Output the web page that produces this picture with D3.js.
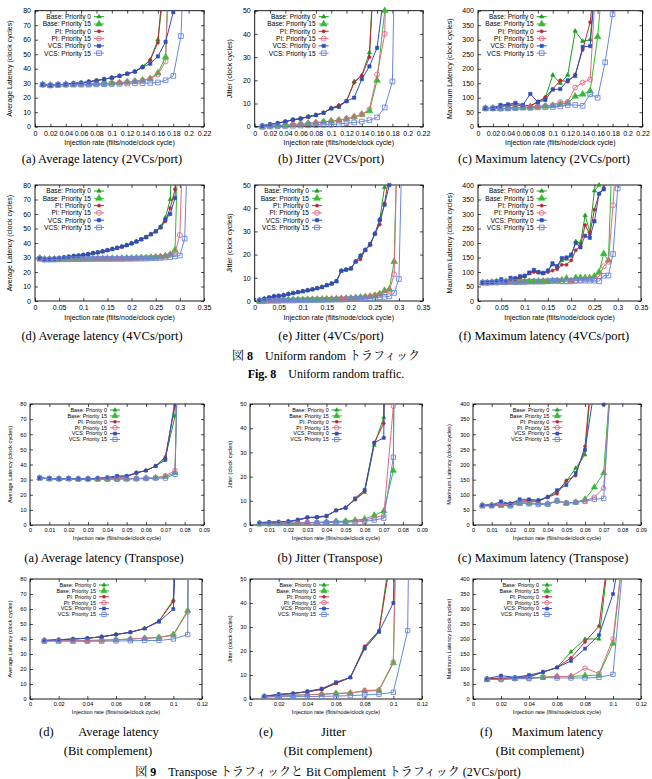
<!DOCTYPE html>
<html><head><meta charset="utf-8">
<script src="https://cdn.jsdelivr.net/npm/d3@7"></script>
<style>body{margin:0;background:#fff}svg{display:block}</style>
</head><body><svg id="c" width="652" height="779"></svg>
<script>
// ---------------- DATA ----------------
const seriesNames = ["Base: Priority 0","Base: Priority 15","PI: Priority 0","PI: Priority 15","VCS: Priority 0","VCS: Priority 15"];

// Fig 8 (a)(b)(c): uniform random, 2VCs/port
const xUni2 = [0.01,0.02,0.03,0.04,0.05,0.06,0.07,0.08,0.09,0.10,0.11,0.12,0.13,0.14,0.15,0.16,0.17,0.18,0.19,0.20];
const avgUni2 = [
  [29,28.5,29,29.3,29.8,30.3,31,31.8,32.8,33.8,35,36.5,38,41.5,46,60,105,null,null,null],
  [29,28.5,28.8,29,29.2,29.3,29.4,29.6,29.8,30,30.3,30.8,31.3,32,33,37,48,200,null,null],
  [29,28.5,29,29.3,29.8,30.3,31,31.8,32.8,33.8,35,36.5,38,41,46,58,120,null,null,null],
  [29,28.5,28.8,29,29.2,29.3,29.4,29.6,29.8,30,30.3,30.8,31.3,32,33,36,45,200,null,null],
  [29,28.5,29,29.3,29.8,30.3,31,31.8,32.8,33.8,35,36.5,38,41,43.5,48.5,58.5,79,200,null],
  [29,28.5,28.8,29,29,29,29,29.2,29.3,29.5,29.6,29.8,30,30,30.2,30.5,32,35,62.5,200]
];
const jitUni2 = [
  [0.3,1,1.5,2.2,3,3.5,4.3,5,6,8,9,11,19.5,22,32,95,null,null,null,null],
  [0,0.3,0.5,0.6,0.9,1.1,1.4,1.7,2.1,2.4,2.8,3.4,4.2,5.3,6.8,20,50,200,null,null],
  [0.3,1,1.5,2.2,3,3.5,4.3,5,6,8,9.2,11,19,22,30,95,null,null,null,null],
  [0,0.3,0.5,0.6,0.9,1.1,1.4,1.7,2.1,2.4,2.8,3.4,4.2,5.3,7.5,22.5,40,200,null,null],
  [0.5,1,1.5,2.2,3,3.5,4.3,5,6,7.8,8.5,11,12.5,20.5,26,34,60,null,null,null],
  [0,0.1,0.2,0.3,0.4,0.5,0.6,0.7,0.8,0.9,1.2,1.5,1.8,2.2,2.8,4,8.3,19.5,200,null]
];
const maxUni2 = [
  [63,63,70,72,75,73,73,85,100,178,150,178,330,295,300,600,null,null,null,null],
  [63,63,63,63,65,65,66,68,70,72,78,82,105,112,123,310,600,null,null,null],
  [63,63,70,75,75,73,72,85,102,130,160,155,180,265,360,600,null,null,null,null],
  [63,63,62,65,66,67,68,70,72,75,85,85,135,152,163,600,null,null,null,null],
  [63,65,75,77,82,75,113,85,92,128,130,160,175,275,278,600,null,null,null,null],
  [63,63,63,63,64,66,65,67,67,68,70,75,75,72,112,100,222,388,600,null]
];

// Fig 8 (d)(e)(f): uniform random, 4VCs/port
const xUni4 = [0.01,0.02,0.03,0.04,0.05,0.06,0.07,0.08,0.09,0.10,0.11,0.12,0.13,0.14,0.15,0.16,0.17,0.18,0.19,0.20,0.21,0.22,0.23,0.24,0.25,0.26,0.27,0.28,0.29,0.30,0.31,0.32];
const avgUni4 = [
  [29.5,28.8,29,29.2,29.5,30,30.5,31,31.3,31.8,32.3,33,33.5,34.2,35,35.8,36.6,37.5,38.5,39.7,41,42.5,44,46,48,51,57.5,70,150,null,null,null],
  [29.5,28.8,28.8,28.8,28.9,29,29,29,29,29,29,29,29.2,29.2,29.2,29.3,29.3,29.4,29.5,29.5,29.6,29.7,29.8,30,30.2,30.5,31,32,35,150,null,null],
  [29.5,28.8,29,29.2,29.5,30,30.5,31,31.3,31.8,32.3,33,33.5,34.2,35,35.8,36.6,37.5,38.5,39.7,41,42.5,44,46,48,50.5,55,64,77,150,null,null],
  [29.5,28.8,28.8,28.8,28.9,29,29,29,29,29,29,29,29.2,29.2,29.2,29.3,29.3,29.4,29.5,29.5,29.6,29.7,29.8,30,30.2,30.5,31,32,33,45.5,150,null],
  [29.5,28.8,29,29.2,29.5,30,30.5,31,31.3,31.8,32.3,33,33.5,34.2,35,35.8,36.6,37.5,38.5,39.7,41,42.5,44,46,48,51,56,60,71,150,null,null],
  [29,28.5,28.5,28.6,28.7,28.8,28.8,28.8,28.9,28.9,29,29,29,29,29,29,29,29,29.1,29.1,29.2,29.2,29.3,29.4,29.5,29.7,30,30.3,30.8,31.3,43,150]
];
const jitUni4 = [
  [0.5,1,1.5,2,2.2,2.5,3,3.4,3.8,4.2,4.6,5,5.5,6,6.8,7.5,8.5,13,13.5,14,17,19.5,22,24.5,29,35,49,100,null,null,null,null],
  [0,0.1,0.2,0.3,0.3,0.4,0.4,0.5,0.5,0.5,0.6,0.6,0.7,0.7,0.8,0.8,0.9,1,1.1,1.2,1.4,1.6,1.8,2,2.3,3,4.5,5,17,100,null,null],
  [0.5,1,1.5,2,2.2,2.5,3,3.4,3.8,4.2,4.6,5,5.5,6,6.8,7.5,8.5,13,13.5,14,17,18,22,24,29,33,42,55,null,null,null,null],
  [0,0.1,0.2,0.3,0.3,0.4,0.4,0.5,0.5,0.5,0.6,0.6,0.7,0.7,0.8,0.8,0.9,1,1.1,1.2,1.3,1.5,1.7,1.9,2.5,3,3.5,4.5,11.5,100,null,null],
  [0.5,1,1.5,2,2.2,2.5,3,3.4,3.8,4.2,4.6,5,5.5,6,6.8,7.5,8.5,13,13.5,14,17,19.5,22,24.5,29,35,41.5,50,100,null,null,null],
  [0,0,0.1,0.1,0.1,0.2,0.2,0.2,0.3,0.3,0.3,0.4,0.4,0.4,0.5,0.5,0.6,0.6,0.7,0.8,0.9,1,1.1,1.2,1.4,1.6,1.8,2,3.5,9.5,100,null]
];
const maxUni4 = [
  [63,63,65,70,70,68,75,78,83,85,95,105,98,95,103,125,118,140,145,155,205,200,295,240,380,400,600,null,null,null,null,null],
  [63,63,64,64,65,66,65,66,66,67,67,67,68,68,68,70,70,72,78,70,80,80,80,80,85,100,163,140,600,null,null,null],
  [63,64,65,68,70,68,72,75,80,85,95,100,98,95,100,105,110,125,125,140,175,190,262,230,315,370,390,600,null,null,null,null],
  [63,63,64,64,65,65,65,66,66,66,67,67,67,68,68,68,68,68,68,70,70,72,75,75,75,85,120,135,330,600,null,null],
  [63,65,65,68,75,68,80,78,85,87,98,107,100,97,105,130,120,148,150,160,200,185,225,218,275,370,385,600,null,null,null,null],
  [63,63,64,64,65,65,68,65,66,66,67,67,67,67,68,70,70,68,68,68,70,70,70,70,70,68,87,88,162,388,600,null]
];

// Fig 9 (a)(b)(c): transpose
const xTrans = [0.005,0.01,0.015,0.02,0.025,0.03,0.035,0.04,0.045,0.05,0.055,0.06,0.065,0.07,0.075,0.08];
const avgTrans = [
  [31,30.6,30.5,30.6,30.4,30.4,30.5,30.8,31.5,32,34.5,36,39,44.5,72,300],
  [31,30.6,30.5,30.6,30.4,30.4,30.5,30.5,30.5,30.6,30.7,31,31.2,32,34.5,300],
  [31,30.6,30.5,30.6,30.4,30.4,30.5,30.8,31.5,32,34.5,36,39,45,79,300],
  [31,30.6,30.5,30.6,30.4,30.4,30.5,30.5,30.5,30.6,30.7,31,31.2,32.5,36,300],
  [31.2,30.8,30.5,30.8,30.5,30.5,31,31.5,32.5,32.5,34.5,36,39,43,82,null],
  [31,30.6,30.5,30.6,30.4,30.4,30.3,30.3,30.3,30.4,30.5,30.7,31,31,33.5,300]
];
const jitTrans = [
  [1,1.1,1.2,1.4,2,3,3.2,3.6,6,7.2,10.5,13.5,33,44.5,500,null],
  [0.5,0.6,0.7,0.8,0.9,1,1.1,1.3,1.5,1.6,2,2.5,4,5.8,22.5,500],
  [1,1.1,1.2,1.4,2,3,3.2,3.6,6,7.3,10.5,14,34,42,500,null],
  [0.5,0.6,0.7,0.8,0.9,1,1.1,1.2,1.3,1.4,1.6,2,3,4,49,500],
  [1,1.2,1.3,1.5,2.2,3.2,3.3,3.8,6,7,11,14.5,34,36,500,null],
  [0.5,0.5,0.6,0.6,0.7,0.8,0.9,1,1.1,1.2,1.3,1.5,2,2.8,28,500]
];
const maxTrans = [
  [65,67,68,70,75,78,80,92,110,145,188,232,600,null,null,null],
  [65,65,65,65,70,72,72,70,80,72,75,85,125,172,600,null],
  [65,67,70,72,80,80,78,92,103,147,163,260,600,null,null,null],
  [65,65,68,65,72,72,70,70,78,73,75,80,92,122,600,null],
  [65,65,78,70,85,85,82,93,115,132,172,248,450,398,600,null],
  [63,63,65,63,75,70,68,68,80,72,75,78,85,88,600,null]
];

// Fig 9 (d)(e)(f): bit complement
const xBit = [0.01,0.02,0.03,0.04,0.05,0.06,0.07,0.08,0.09,0.10,0.11,0.12];
const avgBit = [
  [39,39.5,40,40.5,41.5,43,44.5,47,52,66,300,null],
  [39,39,39,39,39.2,39.5,40,40.5,41,43,59,1000],
  [39,39.5,40,40.5,41.5,43,44.5,47,52,65,300,null],
  [39,39,39,39,39.2,39.5,40,40.5,41,42.5,58,1000],
  [39,39.5,40,40.5,41.5,43,44.5,47,51.5,60,300,null],
  [38.5,38.5,38.5,38.5,38.5,38.7,38.8,39,39,40,43,1000]
];
const jitBit = [
  [1,1.8,2.3,3,4,6.5,9,21.5,28,70,null,null],
  [1,1.2,1.5,1.8,2,2.3,2.5,3.3,3.5,15,300,null],
  [1,1.8,2.3,3,4,6.5,9,22,28.5,65,null,null],
  [1,1.2,1.5,1.8,2,2.3,2.5,3.5,3.8,15.5,300,null],
  [1.2,2,2.3,3.2,4.3,7,9,21,28,40,300,null],
  [0.8,0.9,1,1,1.1,1.2,1.4,1.7,2,2.8,28.5,500]
];
const maxBit = [
  [68,70,70,72,90,105,157,200,200,600,null,null],
  [65,68,68,72,72,75,75,78,80,185,600,null],
  [68,68,72,75,90,105,137,190,243,600,null,null],
  [65,65,68,68,72,75,75,103,85,200,600,null],
  [68,78,72,80,90,105,127,168,213,350,600,null],
  [65,65,68,68,72,70,70,70,72,82,600,null]
];

// axis ticks
const xTicks22 = [0,0.02,0.04,0.06,0.08,0.1,0.12,0.14,0.16,0.18,0.2,0.22];
const xTicks35 = [0,0.05,0.1,0.15,0.2,0.25,0.3,0.35];
const xTicks09 = [0,0.01,0.02,0.03,0.04,0.05,0.06,0.07,0.08,0.09];
const xTicks12 = [0,0.02,0.04,0.06,0.08,0.1,0.12];
const yTicks80 = [0,10,20,30,40,50,60,70,80];
const yTicks50 = [0,10,20,30,40,50];
const yTicks400 = [0,50,100,150,200,250,300,350,400];

const xTitle = "Injection rate (flits/node/clock cycle)";
const yTitleAvg = "Average Latency (clock cycles)";
const yTitleJit = "Jitter (clock cycles)";
const yTitleMax = "Maximum Latency (clock cycles)";

// ---------------- STYLE ----------------
const styles = [
  {color:"#1aa01a", sym:d3.symbolTriangle, size:8,  fill:true},
  {color:"#33bb33", sym:d3.symbolTriangle, size:19, fill:true},
  {color:"#b8283c", sym:d3.symbolCircle,   size:8,  fill:true},
  {color:"#e06a82", sym:d3.symbolCircle,   size:19, fill:false},
  {color:"#2f4fb8", sym:d3.symbolSquare,   size:11, fill:true},
  {color:"#6a86dc", sym:d3.symbolSquare,   size:22, fill:false}
];

const svg = d3.select("#c");
const FONT = "'Liberation Sans', Arial, sans-serif";
const fmt = v => String(+v.toFixed(3));

const big = {fs:7, legFs:6.6, legDy:7.3, tickLab:4, xTitleOff:18.5, ms:1};
const small = {fs:5.6, legFs:5.4, legDy:5.9, tickLab:3.5, xTitleOff:15, ms:0.85};

const panels = [
  {l:35, r:204, t:10.7, b:126.7, xmax:0.22, xt:xTicks22, ymax:80, yt:yTicks80, xs:xUni2, ys:avgUni2, yl:yTitleAvg, ylx:10, legX:91, s:big},
  {l:254.7, r:423, t:10.7, b:126.7, xmax:0.22, xt:xTicks22, ymax:50, yt:yTicks50, xs:xUni2, ys:jitUni2, yl:yTitleJit, ylx:230, legX:315.7, s:big},
  {l:478, r:642.5, t:10.7, b:126.7, xmax:0.22, xt:xTicks22, ymax:400, yt:yTicks400, xs:xUni2, ys:maxUni2, yl:yTitleMax, ylx:450, legX:533.7, s:big},
  {l:35, r:204, t:185, b:301, xmax:0.35, xt:xTicks35, ymax:80, yt:yTicks80, xs:xUni4, ys:avgUni4, yl:yTitleAvg, ylx:10, legX:91, s:big},
  {l:254.7, r:423, t:185, b:301, xmax:0.35, xt:xTicks35, ymax:50, yt:yTicks50, xs:xUni4, ys:jitUni4, yl:yTitleJit, ylx:230, legX:309, s:big},
  {l:478, r:641, t:185, b:301, xmax:0.35, xt:xTicks35, ymax:400, yt:yTicks400, xs:xUni4, ys:maxUni4, yl:yTitleMax, ylx:450, legX:533.7, s:big},
  {l:30, r:204, t:404, b:525, xmax:0.09, xt:xTicks09, ymax:80, yt:yTicks80, xs:xTrans, ys:avgTrans, yl:yTitleAvg, ylx:10, legX:107, s:small},
  {l:250, r:422, t:404, b:525, xmax:0.09, xt:xTicks09, ymax:50, yt:yTicks50, xs:xTrans, ys:jitTrans, yl:yTitleJit, ylx:230, legX:328.7, s:small},
  {l:473, r:641, t:404, b:525, xmax:0.09, xt:xTicks09, ymax:400, yt:yTicks400, xs:xTrans, ys:maxTrans, yl:yTitleMax, ylx:449, legX:549.3, s:small},
  {l:30, r:202, t:579, b:699, xmax:0.12, xt:xTicks12, ymax:80, yt:yTicks80, xs:xBit, ys:avgBit, yl:yTitleAvg, ylx:10, legX:96, s:small},
  {l:250, r:422, t:579, b:699, xmax:0.12, xt:xTicks12, ymax:50, yt:yTicks50, xs:xBit, ys:jitBit, yl:yTitleJit, ylx:230, legX:316, s:small},
  {l:473, r:641, t:579, b:699, xmax:0.12, xt:xTicks12, ymax:400, yt:yTicks400, xs:xBit, ys:maxBit, yl:yTitleMax, ylx:449, legX:539, s:small}
];

function marker(g, st, cx, cy, k) {
  g.append("path")
    .attr("d", d3.symbol().type(st.sym).size(st.size*k)())
    .attr("transform", `translate(${cx},${cy})`)
    .attr("fill", st.fill ? st.color : "none")
    .attr("stroke", st.color).attr("stroke-width", st.fill ? 0.6 : 0.9);
}

panels.forEach((p, pi) => {
  const s = p.s;
  const g = svg.append("g");
  const x = d3.scaleLinear().domain([0, p.xmax]).range([p.l, p.r]);
  const y = d3.scaleLinear().domain([0, p.ymax]).range([p.b, p.t]);
  const cid = "clip" + pi;
  g.append("clipPath").attr("id", cid).append("rect")
    .attr("x", p.l).attr("y", p.t).attr("width", p.r - p.l).attr("height", p.b - p.t);

  const styleAxis = a => {
    a.select(".domain").remove();
    a.selectAll("line").attr("stroke", "#000").attr("stroke-width", 0.7);
    a.selectAll("text").attr("font-family", FONT).attr("font-size", s.fs).attr("fill", "#000");
  };
  g.append("g").attr("transform", `translate(0,${p.b})`)
    .call(d3.axisBottom(x).tickValues(p.xt).tickFormat(fmt).tickSize(-3).tickPadding(s.tickLab)).call(styleAxis);
  g.append("g").attr("transform", `translate(0,${p.t})`)
    .call(d3.axisTop(x).tickValues(p.xt).tickFormat("").tickSize(-3)).call(styleAxis);
  g.append("g").attr("transform", `translate(${p.l},0)`)
    .call(d3.axisLeft(y).tickValues(p.yt).tickSize(-3).tickPadding(s.tickLab)).call(styleAxis);
  g.append("g").attr("transform", `translate(${p.r},0)`)
    .call(d3.axisRight(y).tickValues(p.yt).tickFormat("").tickSize(-3)).call(styleAxis);

  g.append("rect").attr("x", p.l).attr("y", p.t).attr("width", p.r - p.l).attr("height", p.b - p.t)
    .attr("fill", "none").attr("stroke", "#000").attr("stroke-width", 0.9);

  g.append("text").attr("x", (p.l + p.r) / 2).attr("y", p.b + s.xTitleOff)
    .attr("text-anchor", "middle").attr("font-family", FONT).attr("font-size", s.fs).text(xTitle);
  g.append("text").attr("transform", `translate(${p.ylx},${(p.t + p.b) / 2}) rotate(-90)`)
    .attr("text-anchor", "middle").attr("dy", "0.35em").attr("font-family", FONT).attr("font-size", s.fs).text(p.yl);

  const line = d3.line().defined(d => d[1] != null).x(d => x(d[0])).y(d => y(d[1]));
  p.ys.forEach((vals, si) => {
    const st = styles[si];
    const pts = p.xs.map((xv, i) => [xv, vals[i] === undefined ? null : vals[i]]);
    g.append("path").datum(pts).attr("d", line).attr("clip-path", `url(#${cid})`)
      .attr("fill", "none").attr("stroke", st.color).attr("stroke-width", 1);
    pts.filter(d => d[1] != null && d[1] <= p.ymax).forEach(d => marker(g, st, x(d[0]), y(d[1]), s.ms));
  });

  seriesNames.forEach((nm, si) => {
    const st = styles[si];
    const ly = p.t + 6 + si * s.legDy;
    g.append("text").attr("x", p.legX).attr("y", ly).attr("dy", "0.35em").attr("text-anchor", "end")
      .attr("font-family", FONT).attr("font-size", s.legFs).text(nm);
    const w = 10;
    g.append("line").attr("x1", p.legX + 3).attr("x2", p.legX + 3 + w).attr("y1", ly).attr("y2", ly)
      .attr("stroke", st.color).attr("stroke-width", 1);
    marker(g, st, p.legX + 3 + w / 2, ly, s.ms);
  });
});

// ---------------- CAPTIONS ----------------
const SERIF = "'Liberation Serif','Noto Serif CJK JP','Noto Sans CJK JP',serif";
const caps = [
  ["(a) Average latency (2VCs/port)", 102, 163],
  ["(b) Jitter (2VCs/port)", 331, 163],
  ["(c) Maximum latency (2VCs/port)", 544, 163],
  ["(d) Average latency (4VCs/port)", 102, 340],
  ["(e) Jitter (4VCs/port)", 331, 340],
  ["(f) Maximum latency (4VCs/port)", 544, 340],
  ["(a) Average latency (Transpose)", 104, 562],
  ["(b) Jitter (Transpose)", 330, 562],
  ["(c) Maximum latency (Transpose)", 543, 562]
];
caps.forEach(c => svg.append("text").attr("x", c[1]).attr("y", c[2]).attr("text-anchor", "middle")
  .attr("font-family", SERIF).attr("font-size", 12.5).text(c[0]));

const caps2 = [
  ["(d)", 39, "Average latency", 74, 163, "(Bit complement)", 108],
  ["(e)", 259, "Jitter", 323, 344, "(Bit complement)", 328],
  ["(f)", 480, "Maximum latency", 507, 608, "(Bit complement)", 540]
];
caps2.forEach(c => {
  svg.append("text").attr("x", c[1]).attr("y", 736).attr("font-family", SERIF).attr("font-size", 12.5).text(c[0]);
  svg.append("text").attr("x", (c[3] + c[4]) / 2).attr("y", 736).attr("text-anchor", "middle").attr("font-family", SERIF).attr("font-size", 12.5).text(c[2]);
  svg.append("text").attr("x", c[6]).attr("y", 755).attr("text-anchor", "middle").attr("font-family", SERIF).attr("font-size", 12.5).text(c[5]);
});

const f8a = svg.append("text").attr("x", 326).attr("y", 360).attr("text-anchor", "middle").attr("font-family", SERIF).attr("font-size", 12);
f8a.append("tspan").text("図 ");
f8a.append("tspan").attr("font-weight", "bold").text("8");
f8a.append("tspan").text("\u2003Uniform random トラフィック");
const f8b = svg.append("text").attr("x", 326).attr("y", 378).attr("text-anchor", "middle").attr("font-family", SERIF).attr("font-size", 12);
f8b.append("tspan").attr("font-weight", "bold").text("Fig. 8");
f8b.append("tspan").text("\u2003Uniform random traffic.");
const f9 = svg.append("text").attr("x", 328).attr("y", 776).attr("text-anchor", "middle").attr("font-family", SERIF).attr("font-size", 12);
f9.append("tspan").text("図 ");
f9.append("tspan").attr("font-weight", "bold").text("9");
f9.append("tspan").text("\u2003Transpose トラフィックと Bit Complement トラフィック (2VCs/port)");
</script>
</body></html>
